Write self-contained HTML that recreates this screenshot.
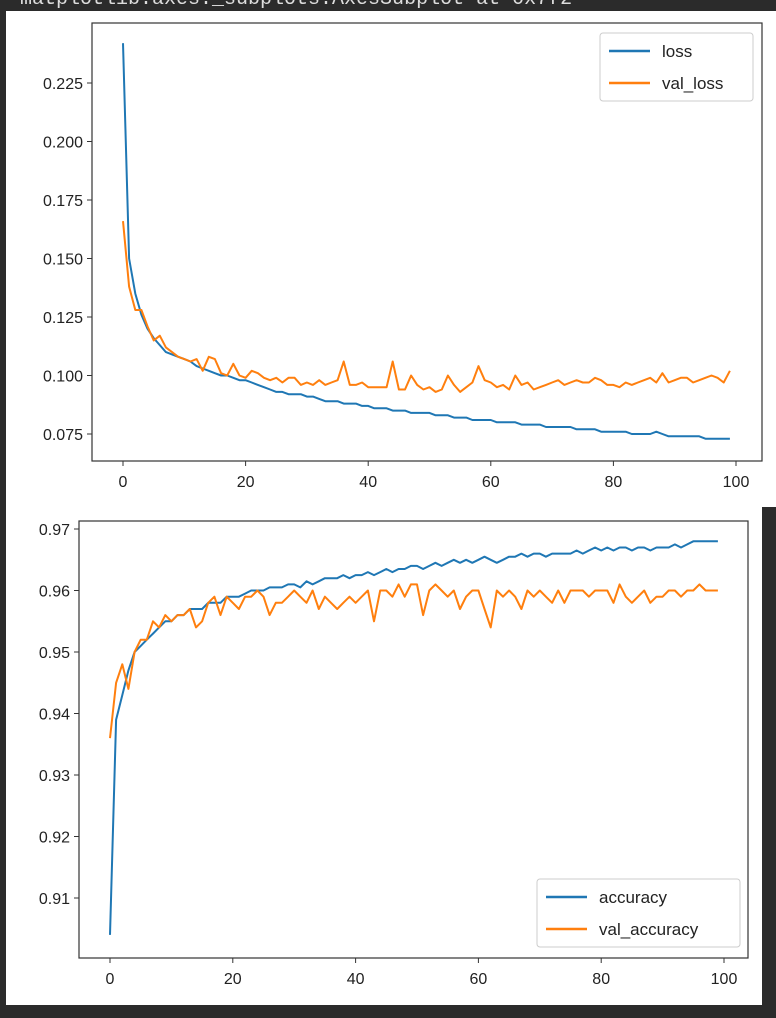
<!DOCTYPE html>
<html><head><meta charset="utf-8"><style>
html,body{margin:0;padding:0;background:#2b2b2b;width:776px;height:1018px;overflow:hidden;}
svg{position:absolute;left:0;top:0;}
text{font-family:"Liberation Sans",sans-serif;fill:#222;}
</style></head><body>
<svg id="s" width="776" height="1018">
<text x="20" y="4" style="font-family:'Liberation Mono',monospace;font-size:20px;fill:#ddd">matplotlib.axes._subplots.AxesSubplot at 0x7f2</text>
<rect x="6" y="11" width="770" height="496" fill="#fff"/>
<rect x="6" y="505" width="756" height="500" fill="#fff"/>
</svg>
<script>
const epochs=[];for(let i=0;i<100;i++)epochs.push(i);
const loss=[0.242,0.150,0.135,0.126,0.120,0.116,0.113,0.110,0.109,0.108,0.107,0.106,0.104,0.103,0.102,0.101,0.100,0.100,0.099,0.098,0.098,0.097,0.096,0.095,0.094,0.093,0.093,0.092,0.092,0.092,0.091,0.091,0.090,0.089,0.089,0.089,0.088,0.088,0.088,0.087,0.087,0.086,0.086,0.086,0.085,0.085,0.085,0.084,0.084,0.084,0.084,0.083,0.083,0.083,0.082,0.082,0.082,0.081,0.081,0.081,0.081,0.080,0.080,0.080,0.080,0.079,0.079,0.079,0.079,0.078,0.078,0.078,0.078,0.078,0.077,0.077,0.077,0.077,0.076,0.076,0.076,0.076,0.076,0.075,0.075,0.075,0.075,0.076,0.075,0.074,0.074,0.074,0.074,0.074,0.074,0.073,0.073,0.073,0.073,0.073];
const valLoss=[0.166,0.138,0.128,0.128,0.121,0.115,0.117,0.112,0.110,0.108,0.107,0.106,0.107,0.102,0.108,0.107,0.101,0.100,0.105,0.100,0.099,0.102,0.101,0.099,0.098,0.099,0.097,0.099,0.099,0.096,0.097,0.096,0.098,0.096,0.097,0.098,0.106,0.096,0.096,0.097,0.095,0.095,0.095,0.095,0.106,0.094,0.094,0.100,0.096,0.094,0.095,0.093,0.094,0.100,0.096,0.093,0.095,0.097,0.104,0.098,0.097,0.095,0.096,0.094,0.100,0.096,0.097,0.094,0.095,0.096,0.097,0.098,0.096,0.097,0.098,0.097,0.097,0.099,0.098,0.096,0.096,0.095,0.097,0.096,0.097,0.098,0.099,0.097,0.101,0.097,0.098,0.099,0.099,0.097,0.098,0.099,0.100,0.099,0.097,0.102];
const acc=[0.904,0.939,0.943,0.947,0.950,0.951,0.952,0.953,0.954,0.955,0.955,0.956,0.956,0.957,0.957,0.957,0.958,0.958,0.958,0.959,0.959,0.959,0.9595,0.960,0.960,0.960,0.9605,0.9605,0.9605,0.961,0.961,0.9605,0.9615,0.961,0.9615,0.962,0.962,0.962,0.9625,0.962,0.9625,0.9625,0.963,0.9625,0.963,0.9635,0.963,0.9635,0.9635,0.964,0.964,0.9635,0.964,0.9645,0.964,0.9645,0.965,0.9645,0.965,0.9645,0.965,0.9655,0.965,0.9645,0.965,0.9655,0.9655,0.966,0.9655,0.966,0.966,0.9655,0.966,0.966,0.966,0.966,0.9665,0.966,0.9665,0.967,0.9665,0.967,0.9665,0.967,0.967,0.9665,0.967,0.967,0.9665,0.967,0.967,0.967,0.9675,0.967,0.9675,0.968,0.968,0.968,0.968,0.968];
const valAcc=[0.936,0.945,0.948,0.944,0.950,0.952,0.952,0.955,0.954,0.956,0.955,0.956,0.956,0.957,0.954,0.955,0.958,0.959,0.956,0.959,0.958,0.957,0.959,0.959,0.960,0.959,0.956,0.958,0.958,0.959,0.960,0.959,0.958,0.960,0.957,0.959,0.958,0.957,0.958,0.959,0.958,0.959,0.960,0.955,0.960,0.960,0.959,0.961,0.959,0.961,0.961,0.956,0.960,0.961,0.960,0.959,0.960,0.957,0.959,0.960,0.960,0.957,0.954,0.960,0.959,0.960,0.959,0.957,0.960,0.959,0.960,0.959,0.958,0.960,0.958,0.960,0.960,0.960,0.959,0.960,0.960,0.960,0.958,0.961,0.959,0.958,0.959,0.960,0.958,0.959,0.959,0.960,0.960,0.959,0.960,0.960,0.961,0.960,0.960,0.960];
const xTicks=[0,20,40,60,80,100];
const lossTicks=[0.075,0.100,0.125,0.150,0.175,0.200,0.225];
const lossTickLabels=["0.075","0.100","0.125","0.150","0.175","0.200","0.225"];
const accTicks=[0.91,0.92,0.93,0.94,0.95,0.96,0.97];
const accTickLabels=["0.91","0.92","0.93","0.94","0.95","0.96","0.97"];

const NS="http://www.w3.org/2000/svg",svg=document.getElementById('s');
function el(t,a,p){const e=document.createElementNS(NS,t);for(const k in a)e.setAttribute(k,a[k]);(p||svg).appendChild(e);return e;}

function panel(cfg){
  const g=el('g',{});
  
  
  const xs=v=>cfg.x0px+(v-0)*(cfg.x100px-cfg.x0px)/100;
  const ys=v=>cfg.yAt1+(v-cfg.v1)*(cfg.yAt2-cfg.yAt1)/(cfg.v2-cfg.v1);
  cfg.series.forEach(s=>{
    const p=el('polyline',{points:s.data.map((v,i)=>xs(epochs[i]).toFixed(1)+','+ys(v).toFixed(1)).join(' '),fill:'none',stroke:s.color,'stroke-width':2,'stroke-linejoin':'round'},g);
    
    
  });
  const fr=el('rect',{x:cfg.L,y:cfg.T,width:cfg.R-cfg.L,height:cfg.B-cfg.T,fill:'none',stroke:'#333','stroke-width':1.2},g);
  
  
  xTicks.forEach(t=>{
    const x=xs(t);
    el('line',{x1:x,x2:x,y1:cfg.B,y2:cfg.B+5,stroke:'#333'},g);
    const tx=el('text',{x:x,y:cfg.B+26,'text-anchor':'middle','font-size':16},g);
    tx.textContent=t;
    
    
  });
  cfg.yTicks.forEach((t,i)=>{
    const y=ys(t);
    el('line',{x1:cfg.L-5,x2:cfg.L,y1:y,y2:y,stroke:'#333'},g);
    const tx=el('text',{x:cfg.L-9,y:y+6,'text-anchor':'end','font-size':16},g);
    tx.textContent=cfg.yLabels[i];
    
    
  });
  const lg=el('g',{},g);
  
  
  el('rect',{x:cfg.lx,y:cfg.ly,width:cfg.lw,height:68,rx:3,fill:'#fff',stroke:'#ccc'},lg);
  cfg.series.forEach((s,i)=>{
    const y=cfg.ly+18+i*32;
    el('line',{x1:cfg.lx+9,x2:cfg.lx+50,y1:y,y2:y,stroke:s.color,'stroke-width':2.5},lg);
    const t=el('text',{x:cfg.lx+62,y:y+6,'font-size':17},lg);
    t.textContent=s.name;
    
    
  });
}
panel({name:'loss-chart',L:92,R:762,T:23,B:461,x0px:123,x100px:736,v1:0.225,yAt1:83,v2:0.075,yAt2:434,
  yTicks:lossTicks,yLabels:lossTickLabels,lx:600,ly:33,lw:153,
  series:[{name:'loss',data:loss,color:'#1f77b4'},{name:'val_loss',data:valLoss,color:'#ff7f0e'}]});
panel({name:'accuracy-chart',L:79,R:748,T:521,B:958,x0px:110,x100px:724,v1:0.97,yAt1:529,v2:0.91,yAt2:898,
  yTicks:accTicks,yLabels:accTickLabels,lx:537,ly:879,lw:203,
  series:[{name:'accuracy',data:acc,color:'#1f77b4'},{name:'val_accuracy',data:valAcc,color:'#ff7f0e'}]});
</script>
</body></html>
